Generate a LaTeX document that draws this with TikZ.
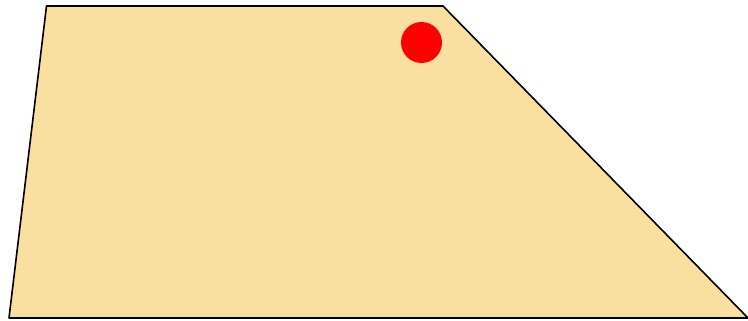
\documentclass[tikz,border=0pt]{standalone}
\usepackage{tikz}

\definecolor{sandfill}{HTML}{F9DFA0}

\begin{document}
\begin{tikzpicture}[x=1pt, y=-1pt]

% Frame
\useasboundingbox (0,0) rectangle (748,321);

% Trapezoid
\coordinate (A) at (9,318);
\coordinate (B) at (46.5,6);
\coordinate (C) at (443,6);
\coordinate (D) at (748,318);

\draw[fill=sandfill, line width=1.6pt, line join=round] (A) -- (B) -- (C) -- (D) -- cycle;

% Point
\coordinate (P) at (421.5,42.5);
\fill[red] (P) circle (20.5);

\end{tikzpicture}
\end{document}
